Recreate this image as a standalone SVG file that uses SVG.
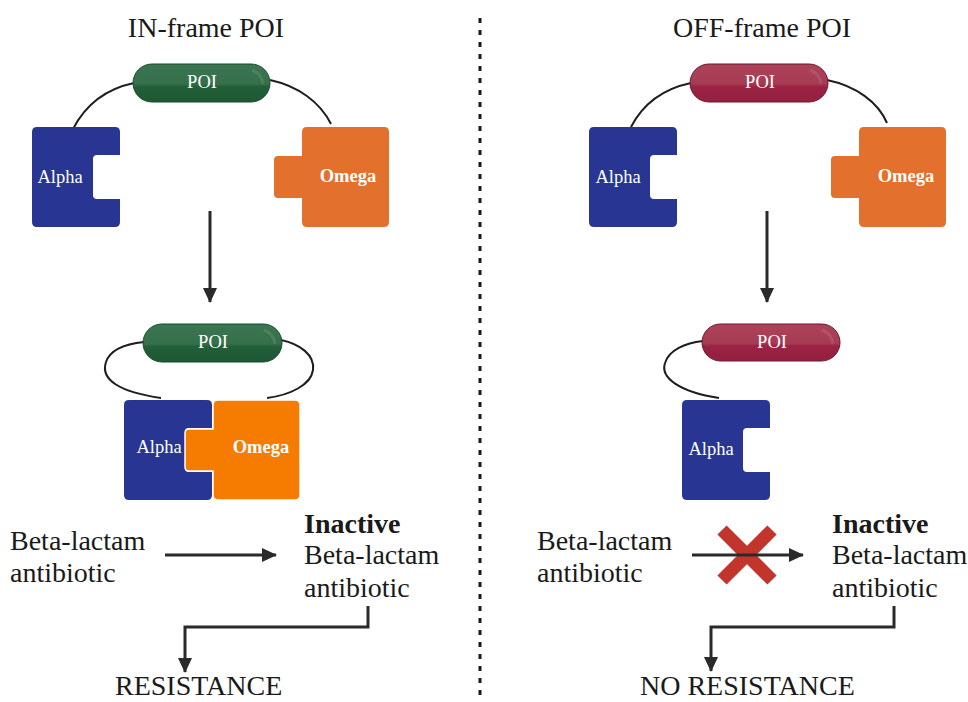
<svg xmlns="http://www.w3.org/2000/svg" width="968" height="702" viewBox="0 0 968 702">
  <style>
    text { font-family: "Liberation Serif", "Times New Roman", serif; fill: #1a1a1a; }
    .big { font-size: 28px; }
    .bold { font-weight: bold; }
    .lbl { font-size: 18.5px; fill: #ffffff; text-anchor: middle; }
    .tether { fill: none; stroke: #1e1e1e; stroke-width: 2; }
    .arrow { fill: none; stroke: #2a2a2a; stroke-width: 3; marker-end: url(#head); }
    .alpha { fill: #283593; }
    .omega { fill: #e3702d; }
    .omega-bound { fill: #f57c00; stroke: #ffffff; stroke-width: 1.5; }
    .poi-g { fill: url(#greenPill); stroke: #1a4a2b; stroke-width: 1; }
    .poi-r { fill: url(#redPill); stroke: #6a1a30; stroke-width: 1; }
    .shine { fill: none; stroke: #ffffff; stroke-opacity: 0.1; stroke-width: 3; }
  </style>
  <defs>
    <marker id="head" viewBox="0 0 15 14" refX="14" refY="7" markerWidth="15" markerHeight="14" markerUnits="userSpaceOnUse" orient="auto">
      <path d="M0,0 L15,7 L0,14 Z" fill="#2a2a2a"/>
    </marker>
    <linearGradient id="greenPill" x1="0" y1="0" x2="0" y2="1">
      <stop offset="0" stop-color="#3b7652"/>
      <stop offset="0.52" stop-color="#35704b"/>
      <stop offset="0.6" stop-color="#215f39"/>
      <stop offset="1" stop-color="#1d5833"/>
    </linearGradient>
    <linearGradient id="redPill" x1="0" y1="0" x2="0" y2="1">
      <stop offset="0" stop-color="#ad4258"/>
      <stop offset="0.52" stop-color="#a63c54"/>
      <stop offset="0.6" stop-color="#9b2244"/>
      <stop offset="1" stop-color="#95203f"/>
    </linearGradient>
    <!-- Alpha fragment: 88 x 100 block with a socket on its right side -->
    <path id="alphaShape" d="M5,0 H83 Q88,0 88,5 V28 H65 Q61,28 61,32 V68 Q61,72 65,72 H88 V95 Q88,100 83,100 H5 Q0,100 0,95 V5 Q0,0 5,0 Z"/>
    <!-- Omega fragment: 87 x 100 block with a plug on its left side -->
    <path id="omegaShape" d="M5,0 H82 Q87,0 87,5 V95 Q87,100 82,100 H5 Q0,100 0,95 V71 H-24 Q-28,71 -28,67 V33 Q-28,29 -24,29 H0 V5 Q0,0 5,0 Z"/>
  </defs>

  <rect width="968" height="702" fill="#ffffff"/>

  <!-- divider -->
  <line x1="480" y1="18" x2="480" y2="700" stroke="#1a1a1a" stroke-width="3" stroke-dasharray="5 7"/>

  <!-- titles -->
  <text class="big" x="206" y="37" text-anchor="middle">IN-frame POI</text>
  <text class="big" x="762" y="37" text-anchor="middle">OFF-frame POI</text>

  <!-- tethers between the POI and the fragments -->
  <g id="tethers">
    <path class="tether" d="M73,129 C88,100 110,88 134,83"/>
    <path class="tether" d="M270,80 C298,86 320,102 331,124"/>
    <path class="tether" d="M161,398 C120,392 100,380 106,362 C110,350 125,344 144,342"/>
    <path class="tether" d="M281,340 C300,344 315,355 313,370 C311,385 290,395 267,398"/>
    <path class="tether" d="M631,127 C645,100 667,88 691,83"/>
    <path class="tether" d="M827,80 C856,86 878,102 887,123"/>
    <path class="tether" d="M719,398 C680,392 660,378 665,363 C669,350 685,343 703,341"/>
  </g>

  <!-- IN-frame, unbound -->
  <g id="poi-in-top">
    <rect class="poi-g" x="133" y="64" width="137" height="38" rx="19"/>
    <path class="shine" d="M252,70 Q262,74 263,84"/>
    <text class="lbl" x="202" y="88">POI</text>
  </g>
  <g id="alpha-in-top">
    <use href="#alphaShape" class="alpha" x="32" y="127"/>
    <text class="lbl" x="60" y="183">Alpha</text>
  </g>
  <g id="omega-in-top">
    <use href="#omegaShape" class="omega" x="302" y="127"/>
    <text class="lbl bold" x="348" y="182">Omega</text>
  </g>

  <!-- IN-frame, assembled -->
  <g id="poi-in-mid">
    <rect class="poi-g" x="143" y="324" width="139" height="38" rx="19"/>
    <path class="shine" d="M264,330 Q274,334 275,344"/>
    <text class="lbl" x="213" y="348">POI</text>
  </g>
  <g id="alpha-in-mid">
    <use href="#alphaShape" class="alpha" x="124" y="400"/>
    <text class="lbl" x="159" y="453">Alpha</text>
  </g>
  <g id="omega-in-mid">
    <use href="#omegaShape" class="omega-bound" x="213" y="400"/>
    <text class="lbl bold" x="261" y="453">Omega</text>
  </g>

  <!-- OFF-frame, unbound -->
  <g id="poi-off-top">
    <rect class="poi-r" x="690" y="64" width="138" height="38" rx="19"/>
    <path class="shine" d="M810,70 Q820,74 821,84"/>
    <text class="lbl" x="760" y="88">POI</text>
  </g>
  <g id="alpha-off-top">
    <use href="#alphaShape" class="alpha" x="589" y="127"/>
    <text class="lbl" x="618" y="183">Alpha</text>
  </g>
  <g id="omega-off-top">
    <use href="#omegaShape" class="omega" x="859" y="127"/>
    <text class="lbl bold" x="906" y="182">Omega</text>
  </g>

  <!-- OFF-frame, Alpha alone -->
  <g id="poi-off-mid">
    <rect class="poi-r" x="702" y="324" width="138" height="37" rx="18.5"/>
    <path class="shine" d="M822,330 Q832,334 833,344"/>
    <text class="lbl" x="772" y="348">POI</text>
  </g>
  <g id="alpha-off-mid">
    <use href="#alphaShape" class="alpha" x="682" y="400"/>
    <text class="lbl" x="711" y="455">Alpha</text>
  </g>

  <!-- antibiotic labels -->
  <g id="substrate-in">
    <text class="big" x="10" y="550">Beta-lactam</text>
    <text class="big" x="10" y="582">antibiotic</text>
  </g>
  <g id="product-in">
    <text class="big bold" x="304" y="533">Inactive</text>
    <text class="big" x="304" y="564">Beta-lactam</text>
    <text class="big" x="304" y="597">antibiotic</text>
  </g>
  <g id="outcome-in">
    <text class="big" x="115" y="695">RESISTANCE</text>
  </g>
  <g id="substrate-off">
    <text class="big" x="537" y="550">Beta-lactam</text>
    <text class="big" x="537" y="582">antibiotic</text>
  </g>
  <g id="product-off">
    <text class="big bold" x="832" y="533">Inactive</text>
    <text class="big" x="832" y="564">Beta-lactam</text>
    <text class="big" x="832" y="597">antibiotic</text>
  </g>
  <g id="outcome-off">
    <text class="big" x="640" y="695">NO RESISTANCE</text>
  </g>

  <!-- blocked reaction mark -->
  <g id="blocked">
    <path d="M722,530 L772,580 M772,530 L722,580" stroke="#c2352c" stroke-width="13" fill="none"/>
  </g>

  <!-- connectors -->
  <g id="connectors">
    <path class="arrow" d="M210,211 V302"/>
    <path class="arrow" d="M767,211 V302"/>
    <path class="arrow" d="M165,555 H276"/>
    <path class="arrow" d="M692,555 H803"/>
    <path class="arrow" d="M368,606 V627 H185 V672"/>
    <path class="arrow" d="M894,606 V627 H711 V671"/>
  </g>
</svg>
